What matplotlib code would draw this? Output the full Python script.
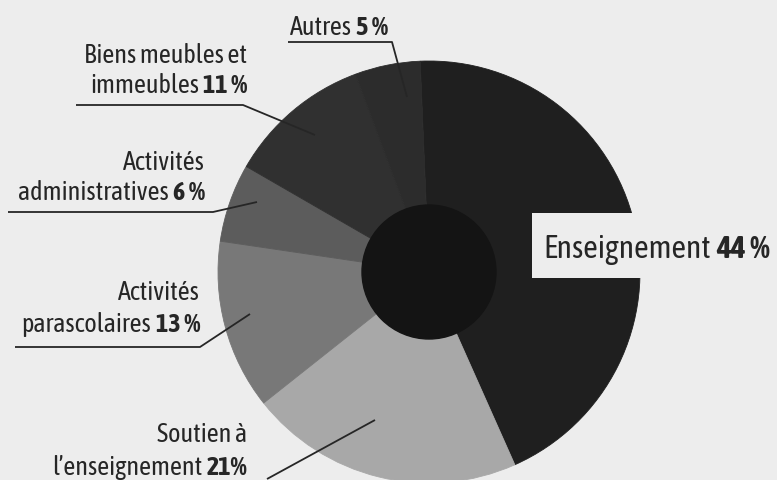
import matplotlib
matplotlib.use("Agg")
from matplotlib import pyplot as plt
from matplotlib import font_manager
from matplotlib import patheffects
from matplotlib.patches import Circle, Rectangle

# Shares of the budget, in percent, clockwise from the top
categories = ["Enseignement", "Soutien à l’enseignement", "Activités parascolaires",
              "Activités administratives", "Biens meubles et immeubles", "Autres"]
shares = [44, 21, 13, 6, 11, 5]
shades = ["#1f1f1f", "#a8a8a8", "#787878", "#5c5c5c", "#303030", "#2c2c2c"]

# label texts: plain lines, then bold percentage on the last line
label_lines = [["Enseignement"], ["Soutien à", "l’enseignement"], ["Activités", "parascolaires"],
               ["Activités", "administratives"], ["Biens meubles et", "immeubles"], ["Autres"]]
pct_labels = ["44 %", "21%", "13 %", "6 %", "11 %", "5 %"]

W, H = 777, 480
BG = "#ededed"
INK = "#262626"


def weight_num(w):
    if isinstance(w, str):
        return font_manager.weight_dict.get(w, 400)
    return w


# look for a narrow face, the original uses a condensed sans
entries = font_manager.fontManager.ttflist
narrow = sorted({f.name for f in entries if "Narrow" in f.name or "Condensed" in f.name})
with_bold = [n for n in narrow if any(f.name == n and weight_num(f.weight) >= 600 for f in entries)]
if with_bold:
    FONT = [with_bold[0], "DejaVu Sans"]
    fake_bold = False
elif narrow:
    FONT = [narrow[0], "DejaVu Sans"]
    fake_bold = True
else:
    FONT = ["Roboto", "DejaVu Sans"]
    fake_bold = False

fig = plt.figure(figsize=(W / 100, H / 100), dpi=100, facecolor=BG)
ax = fig.add_axes([0, 0, 1, 1])
ax.set_facecolor(BG)
ax.set_xlim(0, W)
ax.set_ylim(0, H)
ax.set_aspect("equal")
ax.axis("off")
renderer = fig.canvas.get_renderer()


def bold_style():
    if fake_bold:
        return dict(fontweight="bold",
                    path_effects=[patheffects.withStroke(linewidth=1.3, foreground=INK)])
    return dict(fontweight="bold")


def width_px(s, size, bold=False):
    t = ax.text(0, 0, s, fontsize=size, family=FONT, **(bold_style() if bold else {}))
    w = t.get_window_extent(renderer).width
    t.remove()
    return w


# scale the type so that the main label spans what it does in the original (~227 px)
base = width_px(label_lines[0][0], 22) + width_px(pct_labels[0], 22, True) + 6
BIG = min(23, 22 * 227 / base)
SMALL = BIG * 17 / 22 * 1.07

cx, cy, r = 429, H - 272, 211
ax.pie(shares, colors=shades, startangle=92.4, counterclock=False,
       center=(cx, cy), radius=r, frame=True, wedgeprops=dict(linewidth=0.6))
for w, c in zip(ax.patches, shades):
    w.set_edgecolor(c)
ax.add_patch(Circle((cx, cy), 67, color="#141414", zorder=3))

# cut-out box for the main label
ax.add_patch(Rectangle((532, H - 278), W - 532, 65, facecolor=BG, edgecolor="none", zorder=4))

ax.set_xlim(0, W)
ax.set_ylim(0, H)
ax.set_aspect("equal")
ax.axis("off")


def right_label(x_right, baselines, lines, pct, size):
    # earlier lines are plain, the last one ends with the bold percentage
    for txt, yb in zip(lines[:-1], baselines[:-1]):
        ax.text(x_right, H - yb, txt, ha="right", va="baseline", fontsize=size,
                family=FONT, color=INK, zorder=5)
    b = ax.text(x_right, H - baselines[-1], pct, ha="right", va="baseline", fontsize=size,
                family=FONT, color=INK, zorder=5, **bold_style())
    x0 = ax.transData.inverted().transform((b.get_window_extent(renderer).x0, 0))[0]
    ax.text(x0 - 4, H - baselines[-1], lines[-1], ha="right", va="baseline", fontsize=size,
            family=FONT, color=INK, zorder=5)


def leader(points):
    xs = [p[0] for p in points]
    ys = [H - p[1] for p in points]
    ax.plot(xs, ys, color=INK, lw=1.3, zorder=5, solid_capstyle="butt")


# Enseignement, left aligned inside the box
t = ax.text(543, H - 258, label_lines[0][0], ha="left", va="baseline", fontsize=BIG,
            family=FONT, color=INK, zorder=5)
x1 = ax.transData.inverted().transform((t.get_window_extent(renderer).x1, 0))[0]
ax.text(x1 + 6, H - 258, pct_labels[0], ha="left", va="baseline", fontsize=BIG,
        family=FONT, color=INK, zorder=5, **bold_style())

right_label(247, [442, 475], label_lines[1], pct_labels[1], SMALL)
right_label(200, [300, 332], label_lines[2], pct_labels[2], SMALL)
right_label(205, [170, 200], label_lines[3], pct_labels[3], SMALL)
right_label(247, [63, 93], label_lines[4], pct_labels[4], SMALL)
right_label(388, [35], label_lines[5], pct_labels[5], SMALL)

leader([(267, 479), (375, 420)])
leader([(15, 347), (200, 347), (250, 314)])
leader([(8, 212), (213, 212), (257, 202)])
leader([(76, 105), (243, 105), (315, 135)])
leader([(288, 42), (392, 42), (407, 97)])

fig.savefig("out.png", dpi=100, facecolor=BG)
